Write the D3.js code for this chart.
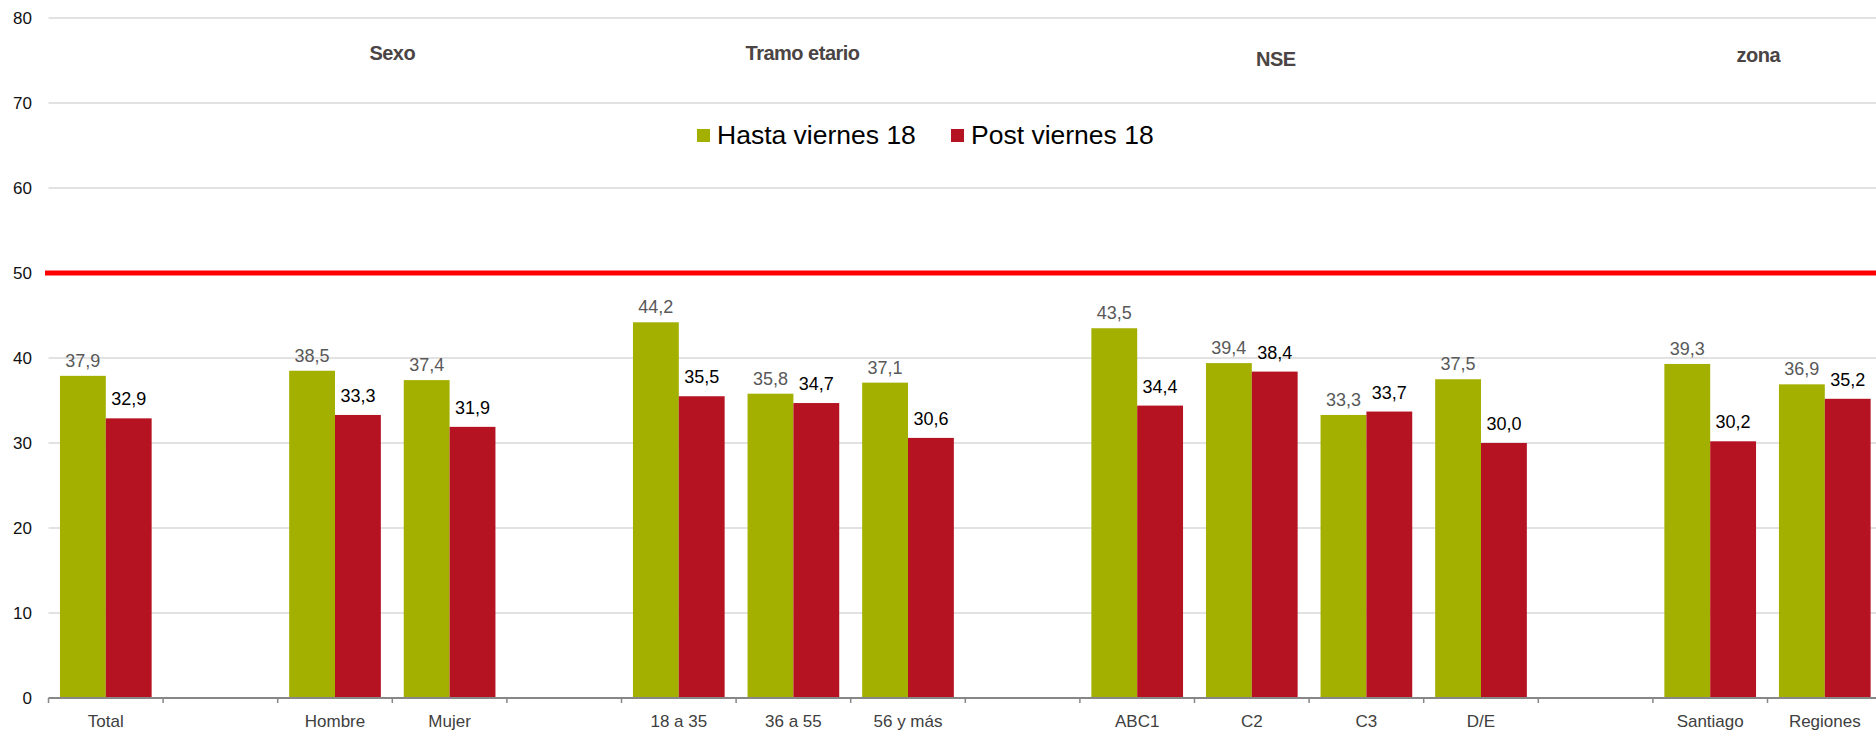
<!DOCTYPE html>
<html>
<head>
<meta charset="utf-8">
<title>Hasta / Post viernes 18</title>
<style>
body { margin: 0; background: #fff; }
text { font-family: "Liberation Sans", Arial, sans-serif; }
</style>
</head>
<body>
<script src="https://d3js.org/d3.v7.min.js"></script>
<script>

// categories (empty strings are the gaps between groups)
var categories = ["Total", "", "Hombre", "Mujer", "", "18 a 35", "36 a 55", "56 y más", "",
                  "ABC1", "C2", "C3", "D/E", "", "Santiago", "Regiones"];
var hasta = [37.9, null, 38.5, 37.4, null, 44.2, 35.8, 37.1, null, 43.5, 39.4, 33.3, 37.5, null, 39.3, 36.9];
var post  = [32.9, null, 33.3, 31.9, null, 35.5, 34.7, 30.6, null, 34.4, 38.4, 33.7, 30.0, null, 30.2, 35.2];
var seriesNames = ["Hasta viernes 18", "Post viernes 18"];
var groupTitles = ["Sexo", "Tramo etario", "NSE", "zona"];
var yTicks = [0, 10, 20, 30, 40, 50, 60, 70, 80];
var threshold = 50;

var width = 1876, height = 731;
var colors = ["#a3b000", "#b51222"];

// where the group titles sit (in category units) and their baselines
var titlePos = [2.5, 6.08, 10.21, 14.42];
var titleY = [60, 60, 66, 62];

var svg = d3.select("body").append("svg")
    .attr("width", width)
    .attr("height", height);

var idx = d3.range(categories.length);

var x = d3.scaleBand()
    .domain(idx)
    .range([48.5, 48.5 + 114.6 * categories.length])
    .paddingInner(0.2)
    .paddingOuter(0.1);

var xs = d3.scaleBand()
    .domain([0, 1])
    .range([0, x.bandwidth()]);

var y = d3.scaleLinear().domain([0, 80]).range([698, 18]);

var step = x.step();
var left = x.range()[0];

// gridlines
svg.append("g").selectAll("line")
  .data(yTicks.filter(function(d){ return d > 0; }))
  .enter().append("line")
    .attr("x1", left).attr("x2", width)
    .attr("y1", function(d){ return y(d); })
    .attr("y2", function(d){ return y(d); })
    .attr("stroke", "#d9d9d9")
    .attr("stroke-width", 1.5);

// y labels
svg.append("g").selectAll("text")
  .data(yTicks)
  .enter().append("text")
    .attr("x", 32)
    .attr("y", function(d){ return y(d); })
    .attr("dy", "0.36em")
    .attr("text-anchor", "end")
    .attr("font-size", 17)
    .attr("fill", "#111")
    .text(function(d){ return d; });

// bars
var series = [hasta, post];
var comma = function(v){ return d3.format(".1f")(v).replace(".", ","); };

series.forEach(function(vals, s) {
  var pts = idx.filter(function(i){ return vals[i] != null; });
  svg.append("g").selectAll("rect")
    .data(pts)
    .enter().append("rect")
      .attr("x", function(i){ return x(i) + xs(s); })
      .attr("width", xs.bandwidth())
      .attr("y", function(i){ return y(vals[i]); })
      .attr("height", function(i){ return y(0) - y(vals[i]); })
      .attr("fill", colors[s]);

  svg.append("g").selectAll("text")
    .data(pts)
    .enter().append("text")
      .attr("x", function(i){ return x(i) + xs(s) + xs.bandwidth() / 2; })
      .attr("y", function(i){ return y(vals[i]) - (s === 0 ? 9 : 13); })
      .attr("text-anchor", "middle")
      .attr("font-size", 18)
      .attr("fill", s === 0 ? "#595959" : "#000")
      .text(function(i){ return comma(vals[i]); });
});

// threshold line
svg.append("line")
    .attr("x1", 45).attr("x2", width)
    .attr("y1", y(threshold)).attr("y2", y(threshold))
    .attr("stroke", "#ff0000")
    .attr("stroke-width", 5);

// x axis
var xAxis = svg.append("g");
xAxis.append("line")
    .attr("x1", left).attr("x2", width)
    .attr("y1", y(0)).attr("y2", y(0))
    .attr("stroke", "#878787")
    .attr("stroke-width", 2);
xAxis.selectAll("line.tick")
  .data(d3.range(categories.length + 1))
  .enter().append("line")
    .attr("class", "tick")
    .attr("x1", function(k){ return left + k * step; })
    .attr("x2", function(k){ return left + k * step; })
    .attr("y1", y(0)).attr("y2", y(0) + 5)
    .attr("stroke", "#878787")
    .attr("stroke-width", 1.5);
xAxis.selectAll("text")
  .data(idx.filter(function(i){ return categories[i] !== ""; }))
  .enter().append("text")
    .attr("x", function(i){ return x(i) + x.bandwidth() / 2; })
    .attr("y", 727)
    .attr("text-anchor", "middle")
    .attr("font-size", 17)
    .attr("fill", "#404040")
    .text(function(i){ return categories[i]; });

// group titles
svg.append("g").selectAll("text")
  .data(groupTitles)
  .enter().append("text")
    .attr("x", function(d, k){ return left + step * (titlePos[k] + 0.5); })
    .attr("y", function(d, k){ return titleY[k]; })
    .attr("text-anchor", "middle")
    .attr("font-size", 20)
    .attr("font-weight", "bold")
    .attr("letter-spacing", "-0.5px")
    .attr("fill", "#4b4444")
    .text(function(d){ return d; });

// legend
var legendX = [697, 951];
var legend = svg.append("g").selectAll("g")
  .data(seriesNames)
  .enter().append("g")
    .attr("transform", function(d, k){ return "translate(" + legendX[k] + ",0)"; });
legend.append("rect")
    .attr("x", 0).attr("y", 129)
    .attr("width", 13).attr("height", 13)
    .attr("fill", function(d, k){ return colors[k]; });
legend.append("text")
    .attr("x", 20).attr("y", 144)
    .attr("font-size", 26.5)
    .attr("fill", "#000")
    .text(function(d){ return d; });

</script>
</body>
</html>
